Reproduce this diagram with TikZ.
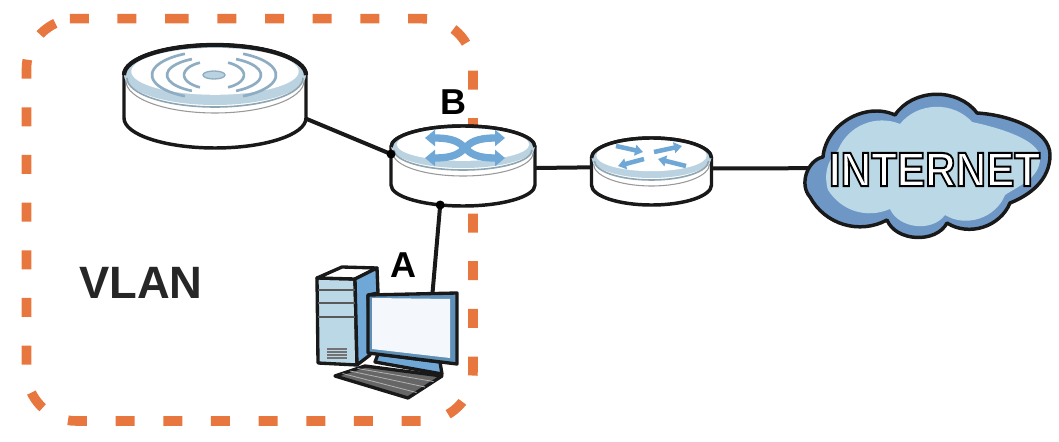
\documentclass[tikz,border=0pt]{standalone}
\usepackage{fontspec}
\setmainfont{Liberation Sans}
\usetikzlibrary{arrows.meta}

\definecolor{vlanorange}{HTML}{E8773F}
\definecolor{rimblue}{HTML}{BBD3E0}
\definecolor{rimgrey}{HTML}{8EA5B2}
\definecolor{signalblue}{HTML}{8FADC2}
\definecolor{arrowblue}{HTML}{6FA8D6}
\definecolor{cloudblue}{HTML}{6E97C6}
\definecolor{cloudlight}{HTML}{BAD8E6}
\definecolor{framegrey}{HTML}{5F91B8}

\tikzset{
    device/.style={inner sep=0pt, outer sep=0pt, rectangle},
    link/.style={line width=3pt, black!90},
    vlanline/.style={line width=7.2pt, vlanorange, dash pattern=on 14.25pt off 21.5pt, rounded corners=37.5pt},
    outline/.style={draw=black!90, line width=2.6pt, line join=round},
    pcline/.style={draw=black!90, line width=2.5pt, line join=round},
    label/.style={font=\bfseries\fontsize{27}{27}\selectfont, text=black},
    swarrow/.style={arrowblue, line width=5.5pt, {Triangle[width=12pt,length=7.5pt]}-{Triangle[width=12pt,length=7.5pt]}},
    rtarrow/.style={arrowblue, line width=3.4pt, -{Triangle[width=8pt,length=6pt]}},
}

% x, y, x radius, y radius, height
\newcommand{\drawdisc}[5]{
    \draw[outline, fill=white] (#1-#3,#2) -- (#1-#3,#2+#5)
        arc [start angle=180, end angle=0, x radius=#3, y radius=#4] -- (#1+#3,#2)
        arc [start angle=0, end angle=-180, x radius=#3, y radius=#4];
    \draw[black!40, line width=0.8pt] (#1-#3+2,#2+6)
        arc [start angle=180, end angle=0, x radius=#3-2, y radius=#4+2];
    \fill[rimblue] (#1,#2) ellipse [x radius=#3, y radius=#4];
    \draw[rimgrey, line width=1.2pt] (#1-#3+3,#2+3)
        arc [start angle=180, end angle=0, x radius=#3-3, y radius=#4-1];
    \fill[white] (#1,#2-0.12*#4) ellipse [x radius=0.92*#3, y radius=0.78*#4];
    \draw[outline] (#1-#3,#2) arc [start angle=180, end angle=0, x radius=#3, y radius=-#4];
}

\begin{document}
\begin{tikzpicture}[x=0.75pt, y=-0.75pt]
    \useasboundingbox (0,0) rectangle (1059,442);

    \draw[vlanline] (119.7,18.7) -- (473,18.7) -- (473,421) -- (26.5,421) -- (26.5,18.7) -- cycle;

    \node[device, minimum width=136.5pt, minimum height=76.5pt] (ap) at (215,96) {};
    \node[device, minimum width=108pt, minimum height=59.25pt] (sw) at (463,165.5) {};
    \node[device, minimum width=90.75pt, minimum height=50.25pt] (rt) at (651.5,170.5) {};
    \node[device, minimum width=182.25pt, minimum height=111pt] (cloud) at (926.5,168) {};
    \node[device, minimum width=66.75pt, minimum height=48pt] (monitor) at (412.5,325) {};

    \draw[link] (ap.-14.8) -- (sw.171.7);
    \draw[link] (monitor.58.6) -- (sw.-120.2);
    \draw[link] (sw.-2) -- (rt.177.6);
    \draw[link] (rt.2.4) -- (cloud.center);

    % access point
    \drawdisc{215}{75}{91}{30}{43}
    \draw[outline, line width=3.2pt] (124,75) arc [start angle=180, end angle=0, x radius=91, y radius=-30];
    \foreach \rx/\ry in {30/14, 47/18, 62/24} {
        \draw[signalblue, line width=2pt, shift={(214,75)}] (118:{\rx} and {\ry})
            arc [start angle=118, end angle=242, x radius=\rx, y radius=\ry];
        \draw[signalblue, line width=2pt, shift={(214,75)}] (-62:{\rx} and {\ry})
            arc [start angle=-62, end angle=62, x radius=\rx, y radius=\ry];
    }
    \draw[signalblue, fill=rimblue, line width=1pt] (214,75) ellipse [x radius=11, y radius=4];

    % switch
    \drawdisc{463}{147}{72}{21}{38}
    \draw[swarrow] (425,138) .. controls (475,138) and (455,158) .. (505,158);
    \draw[swarrow] (425,158) .. controls (475,158) and (455,138) .. (505,138);
    \fill[black] (sw.171.7) circle (4.5);
    \fill[black] (sw.-120.2) circle (4.5);

    % router
    \drawdisc{651.5}{158}{60}{20}{27}
    \draw[rtarrow] (616,146) -- (643,152);
    \draw[rtarrow] (654,152) -- (682,146);
    \draw[rtarrow] (644,159) -- (618,166);
    \draw[rtarrow] (686,166) -- (658,159);

    % cloud
    \draw[outline, fill=cloudblue] (823,157) to [bend left=55] (895,115)
        to [bend left=55] (977,113) .. controls (1010,115) and (1050,130) .. (1050,155)
        .. controls (1050,180) and (1030,195) .. (1010,203)
        to [bend left=50] (947,223) to [bend left=65] (887,220)
        to [bend left=45] (810,197) to [bend left=60] (823,157) -- cycle;
    \fill[cloudlight] (838,150) to [bend left=45] (900,124)
        to [bend left=50] (972,122) .. controls (1000,128) and (1040,140) .. (1040,158)
        .. controls (1040,178) and (1020,185) .. (1005,195)
        to [bend left=50] (945,215) to [bend left=60] (890,209)
        to [bend left=40] (828,190) to [bend left=30] (838,150) -- cycle;
    \node[font=\bfseries\fontsize{36}{36}\selectfont, xscale=0.88] (inet) at (934.5,169.5)
        {\special{pdf:code q 2 Tr 1.5 w 0 0 0 RG 1 1 1 rg}INTERNET\special{pdf:code Q 0 Tr}};

    % computer
    \draw[pcline, fill=cloudlight] (317,278) -- (355,279) -- (357,365) -- (318,363) -- cycle;
    \draw[pcline, fill=white] (317,278) -- (342,267) -- (377,268) -- (355,279) -- cycle;
    \draw[pcline, fill=arrowblue] (355,279) -- (377,268) -- (378,293) -- (368,295) -- (370,355) -- (357,365) -- cycle;
    \foreach \y in {290,303,317} {
        \draw[black!65, line width=1.2pt] (318,\y) -- (355,\y);
    }
    \foreach \y in {349,352,355,358} {
        \draw[black!55, line width=0.8pt] (327,\y) -- (347,\y);
    }
    \draw[pcline, fill=arrowblue] (378,354) -- (440,362) -- (442,374) -- (375,362) -- cycle;
    \draw[pcline, fill=framegrey] (368,295) -- (457,293) -- (457,364) -- (368,353) -- cycle;
    \fill[white!92!arrowblue] (372,298) -- (450,299) -- (450,358) -- (372,349) -- cycle;
    \draw[pcline, fill=black!60] (335,376) -- (365,366) -- (442,376) -- (408,398) -- cycle;
    \foreach \t in {0.25,0.5,0.75} {
        \draw[black!30, line width=0.6pt] (335+30*\t,376-10*\t) -- (408+34*\t,398-22*\t);
    }

    % labels
    \node[label] (lbla) at (403,265) {A};
    \node[label] (lblb) at (453,102) {B};
    \node[label, font=\bfseries\fontsize{34}{34}\selectfont, text=black!85] (vlan) at (141,283) {VLAN};
\end{tikzpicture}
\end{document}
